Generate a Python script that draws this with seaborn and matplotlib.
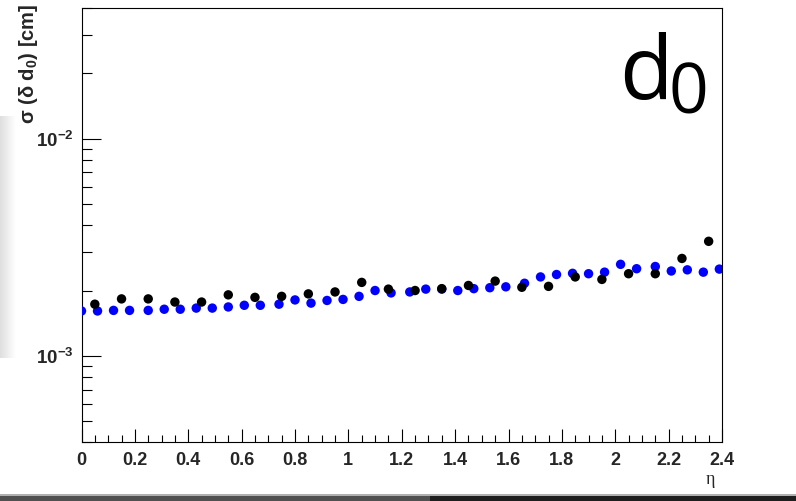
import numpy as np
import pandas as pd
import matplotlib
matplotlib.use("Agg")
import matplotlib.pyplot as plt
from matplotlib.patches import Rectangle
from matplotlib.ticker import FixedLocator, MultipleLocator, NullFormatter
import seaborn as sns

# Resolution of the transverse impact parameter vs. pseudorapidity
eta_black = [0.05, 0.15, 0.25, 0.35, 0.45, 0.55, 0.65, 0.75, 0.85, 0.95,
             1.05, 1.15, 1.25, 1.35, 1.45, 1.55, 1.65, 1.75, 1.85, 1.95,
             2.05, 2.15, 2.25, 2.35]
sigma_black = [1.73e-3, 1.83e-3, 1.83e-3, 1.77e-3, 1.77e-3, 1.91e-3, 1.86e-3, 1.88e-3,
               1.93e-3, 1.97e-3, 2.18e-3, 2.03e-3, 2.00e-3, 2.04e-3, 2.11e-3, 2.21e-3,
               2.07e-3, 2.09e-3, 2.31e-3, 2.25e-3, 2.39e-3, 2.39e-3, 2.81e-3, 3.37e-3]

eta_blue = [0.00, 0.06, 0.12, 0.18, 0.25, 0.31, 0.37, 0.43, 0.49, 0.55,
            0.61, 0.67, 0.74, 0.80, 0.86, 0.92, 0.98, 1.04, 1.10, 1.16,
            1.23, 1.29, 1.35, 1.41, 1.47, 1.53, 1.59, 1.66, 1.72, 1.78,
            1.84, 1.90, 1.96, 2.02, 2.08, 2.15, 2.21, 2.27, 2.33, 2.39]
sigma_blue = [1.61e-3, 1.61e-3, 1.62e-3, 1.62e-3, 1.62e-3, 1.64e-3, 1.64e-3, 1.66e-3,
              1.66e-3, 1.68e-3, 1.71e-3, 1.71e-3, 1.73e-3, 1.81e-3, 1.75e-3, 1.80e-3,
              1.82e-3, 1.88e-3, 2.00e-3, 1.95e-3, 1.97e-3, 2.03e-3, 2.03e-3, 2.00e-3,
              2.04e-3, 2.06e-3, 2.08e-3, 2.16e-3, 2.31e-3, 2.37e-3, 2.40e-3, 2.39e-3,
              2.43e-3, 2.64e-3, 2.52e-3, 2.58e-3, 2.46e-3, 2.49e-3, 2.43e-3, 2.51e-3]

x_ticks = [0, 0.2, 0.4, 0.6, 0.8, 1, 1.2, 1.4, 1.6, 1.8, 2, 2.2, 2.4]
x_tick_labels = ["0", "0.2", "0.4", "0.6", "0.8", "1", "1.2", "1.4", "1.6", "1.8", "2", "2.2", "2.4"]
y_ticks = [1e-3, 1e-2]
y_tick_labels = [r"$10^{-3}$", r"$10^{-2}$"]

df = pd.concat([
    pd.DataFrame({"eta": eta_blue, "sigma": sigma_blue, "set": "blue"}),
    pd.DataFrame({"eta": eta_black, "sigma": sigma_black, "set": "black"}),
], ignore_index=True)

sns.set_theme(style="white")
plt.rcParams["font.family"] = ["Liberation Sans", "DejaVu Sans"]
plt.rcParams["mathtext.fontset"] = "custom"
plt.rcParams["mathtext.rm"] = "Liberation Sans:bold"
plt.rcParams["mathtext.bf"] = "Liberation Sans:bold"
plt.rcParams["mathtext.it"] = "Liberation Sans:bold"
plt.rcParams["mathtext.default"] = "rm"

fig = plt.figure(figsize=(7.96, 5.01), dpi=100)
fig.patch.set_facecolor("white")

# Soft shading along the left edge of the canvas
shade = fig.add_axes([0, 1 - 358 / 501, 16 / 796, (358 - 116) / 501], zorder=0)
grad = np.linspace(0.87, 1.0, 64)[None, :]
shade.imshow(np.repeat(grad, 4, axis=0), cmap="gray", vmin=0, vmax=1,
             aspect="auto", interpolation="bilinear")
shade.set_axis_off()

ax = fig.add_axes([81.5 / 796, 1 - 442.3 / 501, (722 - 81.5) / 796, (442.3 - 8) / 501])

sns.scatterplot(data=df, x="eta", y="sigma", hue="set",
                palette={"blue": "#0000ff", "black": "#000000"},
                s=46, linewidth=0, marker="o", legend=False, ax=ax, zorder=3)

ax.set_yscale("log")
ax.set_xlim(0, 2.4)
ax.set_ylim(4e-4, 4e-2)
ax.set_xlabel("")
ax.set_ylabel("")

for sp in ax.spines.values():
    sp.set_color("black")
    sp.set_linewidth(0.8)
    sp.set_visible(True)

ax.xaxis.set_major_locator(FixedLocator(x_ticks))
ax.set_xticklabels(x_tick_labels)
ax.xaxis.set_minor_locator(MultipleLocator(0.05))
ax.yaxis.set_major_locator(FixedLocator(y_ticks))
ax.set_yticklabels(y_tick_labels)
minor_y = [m * 10.0 ** e for e in (-4, -3, -2) for m in range(2, 10)]
ax.yaxis.set_minor_locator(FixedLocator(minor_y))
ax.yaxis.set_minor_formatter(NullFormatter())

ax.tick_params(axis="x", which="major", direction="in", length=9.4, width=0.8,
               color="black", labelsize=13, pad=7, bottom=True, top=False)
ax.tick_params(axis="x", which="minor", direction="in", length=4.7, width=0.8,
               color="black", bottom=True, top=False)
ax.tick_params(axis="y", which="major", direction="in", length=13.8, width=0.8,
               color="black", labelsize=13.5, pad=6, left=True, right=False)
ax.tick_params(axis="y", which="minor", direction="in", length=6.9, width=0.8,
               color="black", left=True, right=False)
for lab in ax.get_xticklabels():
    lab.set_fontweight("bold")

# Axis titles
fig.text(29 / 796, 1 - 4 / 501, r"σ (δ d$_{0}$) [cm]", rotation=90,
         ha="center", va="top", fontsize=14.5, fontweight="bold")
fig.text(710 / 796, 1 - 479 / 501, "η", ha="center", va="center",
         fontsize=13, family=["Liberation Serif", "DejaVu Serif"])

# Panel tag
fig.text(619 / 796, 1 - 99 / 501, "d", ha="left", va="baseline",
         fontsize=63, family=["Open Sans", "DejaVu Sans"], color="black")
fig.text(669 / 796, 1 - 113 / 501, "0", ha="left", va="baseline",
         fontsize=50, family=["Open Sans", "DejaVu Sans"], color="black")

# Window edge below the canvas
fig.patches.append(Rectangle((0, 0), 430 / 796, 5 / 501, transform=fig.transFigure,
                             facecolor="#505050", edgecolor="none", zorder=0))
fig.patches.append(Rectangle((430 / 796, 0), 366 / 796, 5 / 501, transform=fig.transFigure,
                             facecolor="#1e1e1e", edgecolor="none", zorder=0))
fig.patches.append(Rectangle((0, 5 / 501), 1, 2 / 501, transform=fig.transFigure,
                             facecolor="#b0b0b0", edgecolor="none", zorder=0))

fig.savefig("out.png", dpi=100, facecolor="white")
